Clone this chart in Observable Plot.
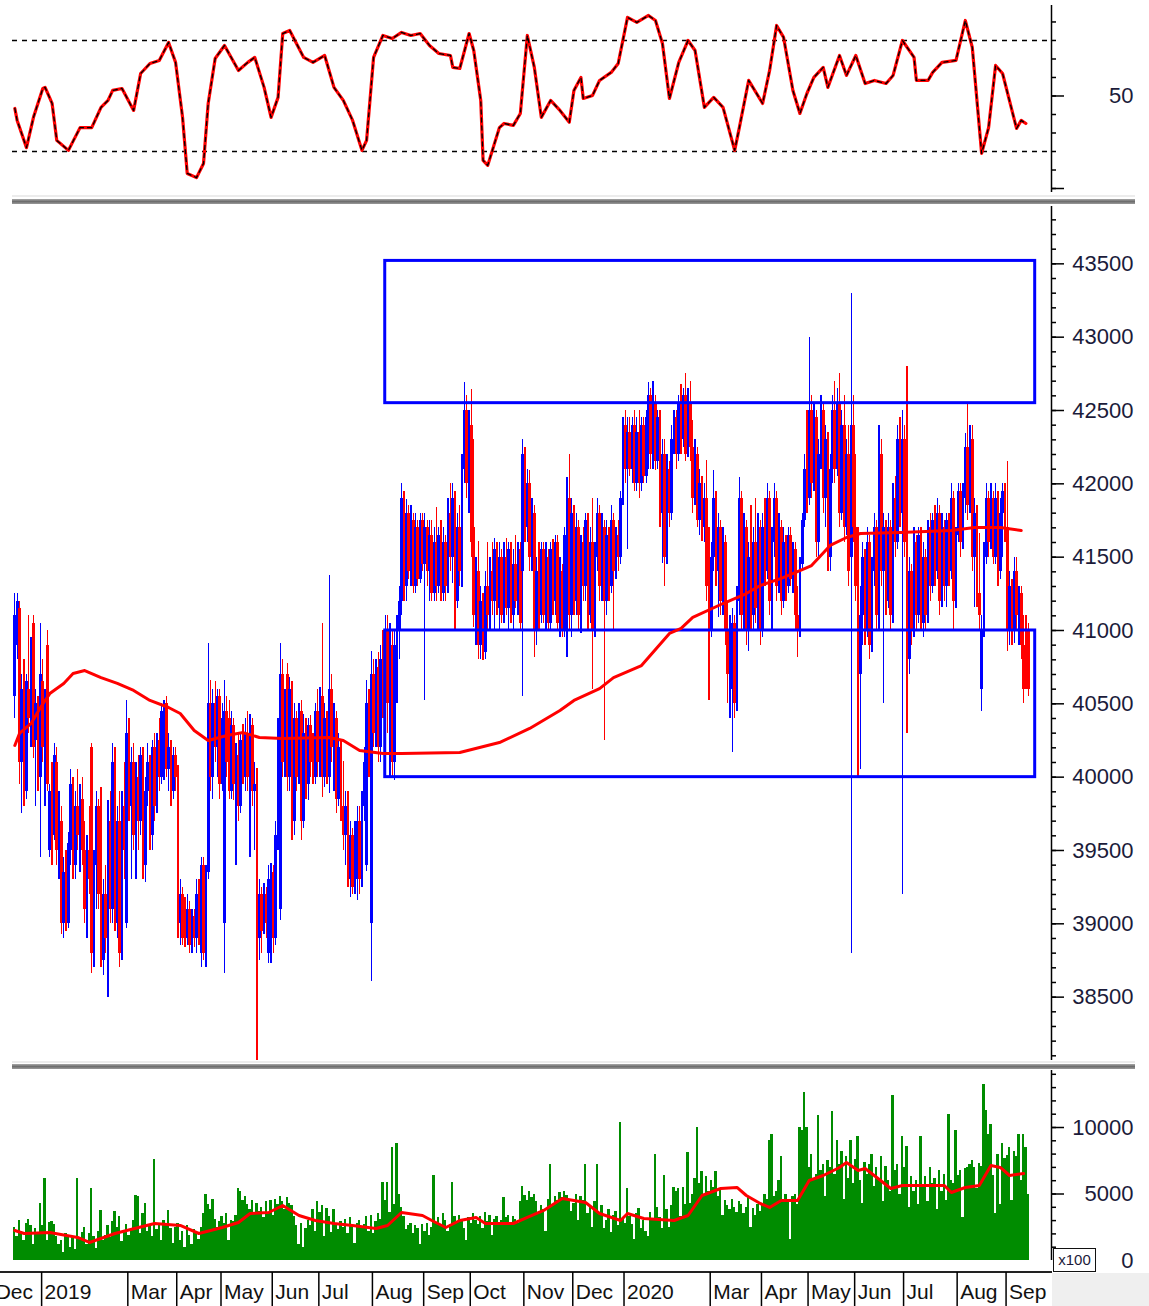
<!DOCTYPE html>
<html><head><meta charset="utf-8">
<script src="https://cdn.jsdelivr.net/npm/d3@7"></script>
<script src="https://cdn.jsdelivr.net/npm/@observablehq/plot@0.6"></script>
<style>
body{margin:0;background:#fff;}
#wrap{position:relative;width:1149px;height:1306px;overflow:hidden;background:#fff;font-family:"Liberation Sans",Arial,sans-serif;}
.panel{position:absolute;left:0;}
</style></head><body><div id="wrap"></div>
<script>
// ---- daily OHLC (trading-day index 0 = mid Dec 2018) ----
const opens = [
40550,40900,41150,40100,40550,39900,40600,40450,41050,40250,
40450,40000,40650,40200,40900,39500,39900,39600,40100,39450,
39700,39000,39350,39000,39500,39950,39400,39800,39600,39850,
39500,39100,39500,40200,38800,39400,39800,39900,38750,39200,
38600,39700,39100,40100,39000,39700,38800,39800,39000,40300,
39800,40100,39600,40000,39700,40150,39400,39900,40100,39600,
40200,39800,40250,40000,40100,40500,40050,40200,39900,40150,
40050,39000,39200,39150,38900,39100,38850,39050,38900,39200,
38800,39400,38800,39350,40500,40000,40500,40200,40550,39950,
39000,40450,40400,39900,40350,39950,40150,39800,40300,40000,
40300,39500,40350,39900,39300,38900,39200,38950,39200,38800,
38800,39350,38900,39600,39100,40700,40100,40700,40000,40600,
39700,40400,40000,40450,39700,40300,39950,40350,40200,40000,
40450,40100,40550,40000,40400,40000,40600,40200,40400,39850,
40200,39800,39600,39800,39300,39600,39250,39300,39700,39300,
39800,39400,40500,39000,40700,40300,40750,40200,40800,40500,
41000,40500,40900,40100,40900,41000,41200,41900,41300,41800,
41400,41750,41300,41700,41350,41750,41450,41700,41400,41650,
41250,41600,41300,41650,41250,41600,41300,41800,41500,41900,
41200,41700,41400,42100,42500,42000,42400,41700,41100,41400,
40900,41200,40850,41300,41100,41400,41200,41550,41150,41500,
41100,41500,41150,41550,41100,41450,41200,41550,41400,42200,
41700,42000,41500,41800,41000,41400,41100,41550,41100,41500,
41050,41550,41200,41600,41050,41400,41000,41650,41900,41100,
41800,41200,41700,41100,41600,41300,41750,41100,41600,41000,
41500,41800,41300,41700,41200,41650,41300,41750,41400,41650,
41500,41900,42400,42100,42350,42100,42400,42000,42350,42000,
42400,42050,42200,42600,42200,42550,42150,42450,41800,42200,
41500,42100,41800,42300,42450,42200,42550,42300,42600,42200,
42550,42250,41900,42200,41750,42000,41700,41900,41300,41000,
41500,41900,41400,41700,41200,41600,41000,40700,40600,41050,
40500,41200,41900,41100,41700,41000,41500,41100,41600,41150,
41700,41000,41700,41400,41900,41200,41600,41900,41300,41700,
41200,41600,41300,41650,41350,41550,41100,41000,41450,41750,
42100,41900,42500,42000,42450,41600,42200,42500,41900,42300,
41500,42100,42500,42100,42550,41800,42400,41700,42200,41500,
42400,41700,41300,40700,41100,41500,41000,41600,40900,41400,
41700,41100,42200,41400,41700,41200,41700,41100,41900,41600,
42300,41800,42300,41600,40800,41400,41000,41600,41100,41650,
41050,41500,41100,41700,41300,41750,41400,41800,41200,41700,
41300,41750,41400,41900,41200,41650,41950,41600,41900,42250,
41850,42300,41500,41800,41250,40600,41000,41500,41900,41600,
41900,41500,41900,41400,41800,41950,41700,41000,41300,41000,
41400,41100,41250,40900,41050,41000];
const highs = [
41250,41250,41200,40700,40800,40700,41100,40950,41100,40600,
40550,41050,40800,40600,41000,39950,40100,40230,40200,39900,
39800,39450,39500,39620,40050,40000,39900,40050,39950,40000,
39700,39600,39800,40230,39500,39900,39850,39930,39300,39400,
39840,39900,40230,40200,39800,39900,39900,40100,40520,40400,
40200,40230,40100,40150,40200,40200,40000,40230,40150,40250,
40300,40300,40400,40500,40520,40550,40300,40250,40200,40200,
40080,39300,39250,39180,39200,39150,39100,39100,39300,39300,
39450,39450,39400,40910,40660,40600,40650,40600,40600,40500,
40660,40550,40520,40450,40400,40230,40300,40300,40360,40400,
40450,40430,40400,40100,40060,39300,39250,39275,39250,39400,
39410,39400,39700,40400,40910,40800,40600,40775,40680,40650,
40500,40450,40500,40520,40430,40400,40400,40420,40300,40500,
40600,40610,41050,40500,40450,41375,40700,40500,40450,40300,
40250,40110,39900,39900,39700,39650,39700,39800,39800,39900,
40200,40660,40600,40860,40800,40800,40850,40900,41000,41100,
41100,41050,41000,41000,41100,41300,42000,41950,41890,41850,
41850,41800,41800,41750,41800,41800,41800,41750,41750,41750,
41700,41840,41700,41750,41700,41650,41900,42000,42000,41950,
41800,41850,42200,42690,42600,42500,42640,42300,41500,41610,
41300,41250,41400,41600,41500,41600,41630,41600,41600,41550,
41600,41630,41600,41600,41550,41650,41600,41600,42300,42250,
42100,42090,41900,41850,41500,41600,41600,41600,41600,41550,
41600,41620,41650,41650,41500,41450,41700,42040,42200,41900,
41850,41800,41750,41650,41700,41800,41800,41700,41900,41600,
41900,41850,41800,41750,41750,41700,41850,41800,41700,41750,
41950,42450,42500,42450,42450,42450,42500,42450,42500,42450,
42450,42500,42690,42650,42700,42600,42500,42500,42300,42300,
42200,42150,42400,42500,42500,42600,42680,42650,42750,42650,
42700,42430,42300,42250,42100,42050,42000,42160,41700,41600,
42090,41950,41800,41750,41700,41650,41200,41100,41150,41100,
41300,42040,41950,41800,41750,41600,41850,41700,41900,41800,
41750,41800,41900,42000,41950,41700,42000,41950,41800,41750,
41700,41650,41700,41700,41600,41600,41300,41500,41800,42200,
42500,43000,42600,42550,42500,42300,42600,42550,42400,42350,
42200,42600,42700,42650,42750,42500,42600,42300,42400,43300,
42600,42200,41700,41300,41600,41550,41700,41650,41500,41800,
41750,42400,42300,41800,41750,41800,41750,42000,42050,42400,
42450,42500,42400,42800,41500,41450,41700,41650,41700,41700,
41600,41550,41750,41800,41800,41850,41900,41850,41800,41750,
41800,41800,42000,41950,41700,42000,42000,42000,42340,42550,
42400,42400,41900,41850,41660,41100,41600,42000,41950,42000,
41950,42000,41950,41900,42000,42000,42150,41400,41350,41500,
41500,41300,41300,41100,41100,41050];
const lows = [
40400,40800,39950,39750,39800,39850,40300,40200,40130,39800,
39900,39450,40100,39800,39900,39450,39400,39570,39400,39300,
38930,38900,38950,38970,39400,39300,39300,39500,39350,39400,
39000,38900,39200,38660,38700,39100,39100,38700,38650,38800,
38500,39000,39000,38950,38900,38700,38750,39300,38970,39700,
39300,39500,39300,39500,39600,39300,39280,39800,39500,39500,
39700,39750,39900,39950,39980,40000,39900,39800,39850,39900,
38900,38850,38850,38840,38850,38800,38800,38840,38800,38850,
38700,38750,38700,39300,39900,39850,40100,40000,39850,39900,
38660,40000,39850,39850,39840,39400,39700,39750,39950,39900,
39900,39450,39800,39500,38070,38750,38800,38930,38900,38730,
38730,38800,38850,39500,39020,40000,40000,39900,39900,39570,
39600,39900,39950,39570,39650,39850,39840,40000,39950,39950,
40000,40000,39860,39930,39950,39890,40100,39900,39750,39800,
39700,39500,39400,39250,39180,39200,39200,39160,39200,39250,
39700,39360,40000,38610,40200,40200,40100,40100,40400,40400,
40300,40000,40000,39980,40500,40800,41100,41200,41200,41350,
41300,41250,41250,41300,41320,41400,40520,41300,41200,41200,
41200,41200,41250,41200,41200,41200,41250,41400,41320,41000,
41150,41300,41290,42000,41900,41800,41500,41020,40900,40800,
40800,40795,40800,41000,41000,41100,41000,41100,41000,41050,
41050,41100,41000,41050,41000,41150,41100,41000,40550,41600,
41600,41400,41400,40815,40900,41000,41050,41050,41000,41000,
41000,41100,41100,41000,40950,40950,40950,40815,41000,40950,
41100,41100,41000,40980,41200,41200,41000,41050,40600,40950,
41400,41200,41200,40250,41100,41200,41250,41000,41350,41400,
41450,41850,42000,41550,42050,42000,41950,41950,41900,41950,
42000,42000,42100,42100,42100,42090,42100,41700,41460,41300,
41450,41700,41750,42200,42100,42150,42200,42250,42150,42180,
42150,41800,41850,41700,41650,41610,41600,41200,40520,40950,
41400,41300,41090,41100,41100,40900,40500,40400,40170,40400,
40450,41100,41000,41000,40900,40860,41000,41000,41050,41000,
40900,40950,41300,41350,41100,41000,41500,41200,41250,41100,
41150,41200,41250,41300,41250,41000,40815,40950,41400,41700,
41800,41850,41900,41950,41500,41500,42100,41800,41700,41400,
41400,42000,42000,42050,41700,41750,41600,41650,41300,38800,
41600,41200,40000,40050,40900,40900,40950,40800,40850,41300,
41000,41000,41300,40500,41100,41150,41000,41050,41500,41550,
41700,39200,41500,40300,40700,40900,40950,41000,41050,41000,
40950,41000,41050,41200,41250,41300,41350,41100,41160,41200,
41160,41300,41350,41000,41150,41600,41500,41550,41800,41750,
41800,41400,41160,41160,41000,40450,40950,41450,41500,41550,
41450,41450,41300,41350,41500,41600,40860,40900,40900,40910,
41000,40900,40800,40500,40600,40550];
const closes = [
41100,41200,40100,40600,39900,40650,40400,40800,40200,40500,
40000,40700,40200,40450,39950,39900,39550,40150,39500,39800,
39000,39350,39100,39550,39950,39400,39800,39600,39850,39500,
39100,39500,39300,38800,39400,39800,39200,38750,39200,38900,
39700,39100,40100,39000,39700,38800,39800,39500,40300,39800,
40100,39600,40000,39700,40150,39400,39900,40100,39600,40200,
39800,40250,40000,40450,40500,40050,40200,39900,40150,40000,
39000,39200,38900,38900,39100,38850,39050,38900,39200,38950,
39400,38800,39350,40500,40000,40500,40200,40550,39950,40400,
40450,40100,39900,40350,39950,40150,39800,40250,40000,40300,
40000,40350,39900,39950,38900,39200,38950,39200,39000,39300,
39350,38900,39600,40300,40700,40100,40500,40000,40600,39700,
40400,40000,40450,39700,40300,39950,40350,40100,40000,40450,
40100,40550,40000,40400,40050,40600,40200,40400,39850,40200,
39800,39600,39800,39300,39600,39250,39600,39700,39300,39800,
40100,40500,40100,40700,40300,40750,40200,40800,40500,41000,
40500,40900,40100,40900,41000,41200,41900,41300,41800,41400,
41750,41300,41700,41350,41750,41450,41700,41400,41650,41250,
41600,41300,41650,41250,41600,41300,41800,41500,41900,41200,
41700,41400,42100,42500,42000,42400,41600,41100,41400,40900,
41200,40850,41300,41100,41400,41200,41550,41150,41500,41100,
41500,41150,41550,41100,41450,41200,41550,41050,42200,41700,
42000,41500,41800,41000,41400,41100,41550,41100,41500,41050,
41550,41200,41600,41050,41400,41000,41650,41900,41100,41800,
41200,41700,41100,41600,41300,41750,41100,41600,41000,41500,
41800,41300,41700,41200,41650,41300,41750,41400,41650,41500,
41900,42400,42100,42350,42100,42400,42000,42350,42000,42400,
42050,42450,42600,42200,42550,42150,42450,41800,42200,41500,
42100,41800,42300,42450,42200,42550,42300,42600,42200,42550,
42250,41900,42200,41750,42000,41700,41900,41300,41000,41500,
41900,41400,41700,41200,41600,41000,40700,41000,41050,40500,
41200,41900,41100,41700,41000,41500,41100,41600,41150,41700,
41000,41700,41400,41900,41200,41600,41900,41300,41700,41200,
41600,41300,41650,41350,41550,41100,41000,41450,41750,42100,
41900,42500,42000,42450,41600,42200,42500,41900,42300,41500,
42100,42500,42100,42550,41800,42400,41700,42200,41400,42400,
41700,41300,40700,41100,41500,41000,41600,40900,41400,41700,
41100,42200,41400,41700,41200,41700,41100,41900,41600,42300,
41800,42300,41600,40800,41400,41000,41600,41100,41650,41050,
41500,41100,41700,41300,41750,41400,41800,41200,41700,41300,
41750,41400,41900,41200,41650,41950,41600,41900,42250,41850,
42300,41500,41800,41250,41100,41000,41500,41900,41600,41900,
41500,41900,41400,41800,41950,41700,41000,41300,41000,41400,
41100,41250,40900,40600,40700,40600];
// ---- daily volume (x100) ----
const volumes = [
2500,1800,3000,2200,1500,2800,3100,2600,1200,2400,
2000,4300,2600,6150,1500,2850,2900,2700,1800,1200,
1500,600,2000,1900,1000,1700,800,6150,1600,2100,
2500,1200,2000,5400,1800,900,2200,3760,1500,1900,
2600,1700,2900,3700,2500,3300,1400,2200,2700,1900,
2400,3000,4900,4800,2000,3500,4300,2200,2600,1800,
7600,2300,2800,1500,3000,2700,3760,2400,1300,2500,
2800,1500,2200,1000,2600,1900,1200,2300,2000,1600,
2500,3500,5000,4200,3800,4600,3100,2500,2900,3300,
2800,3500,1500,3000,2900,3400,5400,5200,4500,4800,
4200,3800,4500,3500,4300,3700,4000,3200,4400,3600,
4500,3400,4600,4200,4800,4400,3800,4700,4300,4100,
3300,2600,1200,2800,1000,2400,3000,2600,3800,2200,
4400,3600,4100,1800,3900,3300,2100,3800,2700,2300,
2900,2500,3100,2000,3200,2600,1300,2800,3000,2400,
2700,3300,2200,3400,2000,2900,3500,3100,5900,4500,
5900,3600,8500,4200,8800,5000,4000,3300,2300,2600,
2800,2000,2600,2400,1200,2700,2200,2800,1900,2500,
6400,2800,3200,2600,3500,3000,2200,2700,5900,3300,
2900,3400,3100,2400,1500,3200,2800,3500,3000,2700,
3300,2400,3600,2900,3400,1900,3100,3300,2700,3000,
4700,3200,3400,2600,3300,3100,2800,4400,5600,4900,
4500,5200,4700,5000,4400,3600,4100,3800,2200,4600,
7200,4200,4800,4500,5100,4700,5200,4900,4600,3700,
4300,5000,3000,4800,4500,7200,3500,4000,2500,4400,
7200,3600,4100,2400,3000,3800,2100,3400,3700,2600,
10400,3100,2800,5400,3300,2700,1600,3500,3900,2400,
3000,2200,1800,3600,3100,8000,4000,3200,2400,6400,
3800,2500,4100,5500,5200,5400,3300,5500,4200,8150,
4300,5000,6200,10000,5800,6700,4800,6300,5200,6000,
5500,6700,4800,5400,3400,4500,4100,3800,4600,4000,
3600,4400,4200,3500,4000,4800,2500,3900,3400,4200,
3700,4300,5000,4600,9000,9500,4800,5200,6000,7800,
4600,5000,4500,1600,4800,5000,4200,10000,9800,12600,
10000,7000,8000,6200,6500,10900,6800,7200,4800,7500,
7000,11200,6500,9000,7200,8200,4600,7800,6200,9000,
5800,7600,9300,6000,4300,7400,6500,7200,8000,5600,
7000,6200,7800,4400,7100,6000,5200,12400,6800,7200,
5000,9300,7000,8600,4000,6300,5200,6000,4200,9300,
5500,6300,4400,7000,5800,6200,3800,6800,5200,6500,
4500,11000,6000,5800,9800,6400,6800,3200,6900,7000,
7200,7500,7000,5400,7300,7100,13200,11300,9500,10200,
6400,3500,8000,4200,8800,7700,7900,8500,4500,8200,
7800,9500,6000,9500,8500,5000];
// ---- price moving average ----
const maDay   = [0,2,7,11,15,21,25,30,37,44,51,58,66,71,77,83,91,98,105,115,135,141,148,158,166,191,208,221,234,240,251,257,263,269,272,281,286,291,304,314,320,329,337,342,346,350,357,363,380,402,412,423,432];
const maValue = [40216,40298,40366,40475,40570,40639,40707,40727,40679,40639,40591,40523,40475,40434,40318,40250,40284,40304,40270,40263,40270,40250,40182,40161,40161,40168,40236,40332,40454,40523,40604,40679,40720,40761,40816,40980,41014,41089,41184,41252,41307,41355,41409,41443,41511,41580,41634,41661,41668,41682,41702,41702,41682];
// ---- volume moving average ----
const vmaDay   = [0,4,15,27,32,43,48,60,71,79,89,96,101,109,115,122,129,137,145,155,160,166,175,179,185,191,198,202,214,220,227,235,245,251,260,263,270,283,289,295,303,310,314,320,324,329,336,341,347,354,357,362,365,370,376,381,389,399,402,408,414,419,423,427,433];
const vmaValue = [2256,2030,2106,1730,1354,2030,2256,2782,2632,2030,2482,2858,3534,3610,4136,3384,3008,2782,2632,2406,2632,3610,3384,3008,2482,3008,3234,2782,2782,3234,3760,4662,4362,3534,3008,3534,3158,3008,3384,4888,5414,5490,4888,4286,3986,4512,4512,6016,6392,6994,7370,6768,6918,6242,5414,5640,5640,5640,5114,5490,5640,7144,6994,6392,6542];
// ---- RSI ----
const rsiDay = [0,1,5,8,12,13,16,18,23,28,33,37,40,42,46,51,54,58,62,66,69,72,74,78,81,83,86,90,96,100,103,107,110,113,115,118,124,128,133,137,141,145,149,151,154,158,162,166,170,174,178,182,187,188,191,195,197,200,201,203,208,210,214,217,220,223,226,230,234,238,240,243,244,248,251,256,259,263,267,272,275,278,281,285,289,292,296,300,304,309,311,315,321,324,327,330,334,337,340,343,347,349,354,357,361,365,369,374,377,381,386,387,392,394,398,404,408,411,413,415,418,421,424,430,432,434];
const rsiValue = [45.5,41.2,31.4,42.3,52.7,53.1,47.3,34,30.4,38.6,38.6,45.9,48.4,52,52.7,44.8,58.1,61.7,62.8,69.3,62.1,42.3,22.1,20.6,25.7,47.3,63.5,68.2,59.2,62.1,63.9,53.1,42.3,49.5,72.5,73.6,63.9,62.1,64.6,53.1,48.4,41.2,30.4,34,63.9,71.8,70.7,72.9,71.8,72.5,68.2,65.3,64.6,60.3,59.9,72.5,66.4,48.4,26.8,25,38.6,40.1,39.4,43.7,71.8,60.3,42.3,48.4,44.8,40.5,52,56.7,49.1,50.2,55.6,58.5,61.7,78.3,76.5,79,77.2,68.9,49.1,62.1,70,66.4,45.9,49.5,45.9,30.4,38.6,55.6,47.3,59.2,75.4,71.1,52,43.7,50.9,56.7,60.3,53.1,64.6,57.4,64.6,54.5,55.6,54.5,57.4,70,63.9,55.6,55.6,58.5,62.1,62.8,77.2,67.5,48.4,29.3,38.6,61,58.1,38.3,41.2,40.1];
const rsiLevels = [30, 70];
// ---- resistance / support boxes ----
const boxStart = [159, 159];
const boxEnd   = [438, 438];
const boxLow   = [42550, 40000];
const boxHigh  = [43520, 41000];
// ---- month labels (first trading-day index of each month) ----
const monthStart = [-9,12,49,70,89,111,131,154,176,196,219,240,262,299,321,341,361,382,405,426];
const monthLabel = ["Dec","2019","Mar","Apr","May","Jun","Jul","Aug","Sep","Oct","Nov","Dec","2020","Mar","Apr","May","Jun","Jul","Aug","Sep"];
// ---- axis ticks ----
const priceMajor = [38500,39000,39500,40000,40500,41000,41500,42000,42500,43000,43500];
const priceMinor = d3.range(38100, 43900, 100);
const rsiMinor = [16.67,23.33,30,36.67,43.33,50,56.67,63.33,70,76.67];
const rsiMajor = [16.67,50];
const rsiLabels = [50];
const volMinor = d3.range(1000, 15000, 1000);
const volMajor = [5000, 10000];
const volLabels = [0, 5000, 10000];

const BLUE = "#0000ff", RED = "#ff0000", GREEN = "#008c00", TXT = "#1b1b3a";
const XDOM = [-1, 445];
const PX_PER_DAY = (1149 - 12 - 98) / (XDOM[1] - XDOM[0]);
const X = {domain: XDOM, axis: null};
const FONT = "Liberation Sans, Arial, sans-serif";
const common = {width: 1149, marginLeft: 12, marginRight: 98, style: {background: "transparent", fontFamily: FONT, overflow: "visible"}};

const candles = closes.map((c, i) => ({i, o: opens[i], h: highs[i], l: lows[i], c}));
const candleColor = d => d.c >= d.o ? BLUE : RED;
const ma = maDay.map((i, k) => ({i, v: maValue[k]}));
const vols = volumes.map((v, i) => ({i, v}));
const vma = vmaDay.map((i, k) => ({i, v: vmaValue[k]}));
const rsi = rsiDay.map((i, k) => ({i, v: rsiValue[k]}));
const boxes = boxStart.map((s, k) => ({s, e: boxEnd[k], lo: boxLow[k], hi: boxHigh[k]}));
const months = monthStart.map((s, k) => ({s, label: monthLabel[k]}));

// right-hand axis: ticks drawn as short rules outside the frame, labels right-aligned
function rightTicks(ticks, size) {
  return Plot.ruleY(ticks, {y: d => d, x1: XDOM[1], x2: XDOM[1] + size / PX_PER_DAY, stroke: "#000", strokeWidth: 1.5});
}
function rightAxis(minor, major, labels) {
  return [
    Plot.ruleX([XDOM[1]], {stroke: "#000", strokeWidth: 1.5}),
    rightTicks(minor, 5),
    rightTicks(major, 13),
    Plot.text(labels, {y: d => d, text: d => String(d), frameAnchor: "right", dx: 82, textAnchor: "end", fontSize: 22, fill: TXT})
  ];
}

const rsiChart = Plot.plot({...common, height: 198, marginTop: 5, marginBottom: 6,
  x: X, y: {domain: [15.23, 82.6], axis: null},
  marks: [
    Plot.ruleY(rsiLevels, {stroke: "#000", strokeWidth: 1.4, strokeDasharray: "5,5"}),
    Plot.line(rsi, {x: "i", y: "v", stroke: RED, strokeWidth: 3.2}),
    Plot.line(rsi, {x: "i", y: "v", stroke: "#000", strokeWidth: 1.3, strokeDasharray: "4,4"}),
    ...rightAxis(rsiMinor, rsiMajor, rsiLabels)
  ]});

const priceChart = Plot.plot({...common, height: 858, marginTop: 2, marginBottom: 2,
  x: X, y: {domain: [38068, 43891], axis: null},
  marks: [
    Plot.ruleX(candles, {x: "i", y1: "l", y2: "h", stroke: candleColor, strokeWidth: 1.3, shapeRendering: "crispEdges"}),
    Plot.ruleX(candles, {x: "i", y1: "o", y2: "c", stroke: candleColor, strokeWidth: 2.7, shapeRendering: "crispEdges"}),
    Plot.rect(boxes, {x1: "s", x2: "e", y1: "lo", y2: "hi", stroke: BLUE, strokeWidth: 3, fill: "none"}),
    Plot.line(ma, {x: "i", y: "v", stroke: RED, strokeWidth: 3}),
    ...rightAxis(priceMinor, priceMajor, priceMajor)
  ]});

const volChart = Plot.plot({...common, height: 194, marginTop: 2, marginBottom: 2,
  x: X, y: {domain: [0, 14286], axis: null},
  marks: [
    Plot.rectY(vols, {x1: d => d.i - 0.5, x2: d => d.i + 0.5, y: "v", fill: GREEN, shapeRendering: "crispEdges"}),
    Plot.line(vma, {x: "i", y: "v", stroke: RED, strokeWidth: 3}),
    ...rightAxis(volMinor, volMajor, volLabels)
  ]});

const timeAxis = Plot.plot({...common, width: 1052, marginRight: 1052 - 1051, height: 34, marginTop: 0, marginBottom: 0,
  x: X,
  marks: [
    Plot.ruleX(monthStart, {x: d => d - 0.5, stroke: "#000", strokeWidth: 1.5}),
    Plot.text(months, {x: d => d.s - 0.5, text: "label", frameAnchor: "middle", dx: 3, dy: 3, textAnchor: "start", fontSize: 21, fill: "#111"})
  ]});

const wrap = document.getElementById("wrap");
function place(node, top) { const d = document.createElement("div"); d.className = "panel"; d.style.top = top + "px"; d.appendChild(node); wrap.appendChild(d); }
function deco(css, text) { const d = document.createElement("div"); d.style.cssText = "position:absolute;" + css; if (text) d.textContent = text; wrap.appendChild(d); return d; }
place(rsiChart, 0);
place(priceChart, 204);
place(volChart, 1068);
deco("left:0;top:1271px;width:1052px;height:2px;background:#222;");
deco("left:1052px;top:1273px;width:97px;height:33px;background:#efefef;");
place(timeAxis, 1272);
deco("left:12px;top:195px;width:1123px;height:9px;background:linear-gradient(to bottom,#ececec 0px,#ececec 2px,#fff 2px,#fff 4px,#a8a8a8 4px,#6e6e6e 6.5px,#9a9a9a 9px);");
deco("left:12px;top:1061px;width:1123px;height:8px;background:linear-gradient(to bottom,#ececec 0px,#ececec 2px,#fff 2px,#fff 3px,#a8a8a8 3px,#6e6e6e 5.5px,#9a9a9a 8px);");
deco("left:1053px;top:1248px;width:41px;height:22px;border:1.5px solid #111;font:15px 'Liberation Sans',Arial,sans-serif;line-height:22px;text-align:center;color:#1b1b3a;background:#fff;", "x100");
</script></body></html>
